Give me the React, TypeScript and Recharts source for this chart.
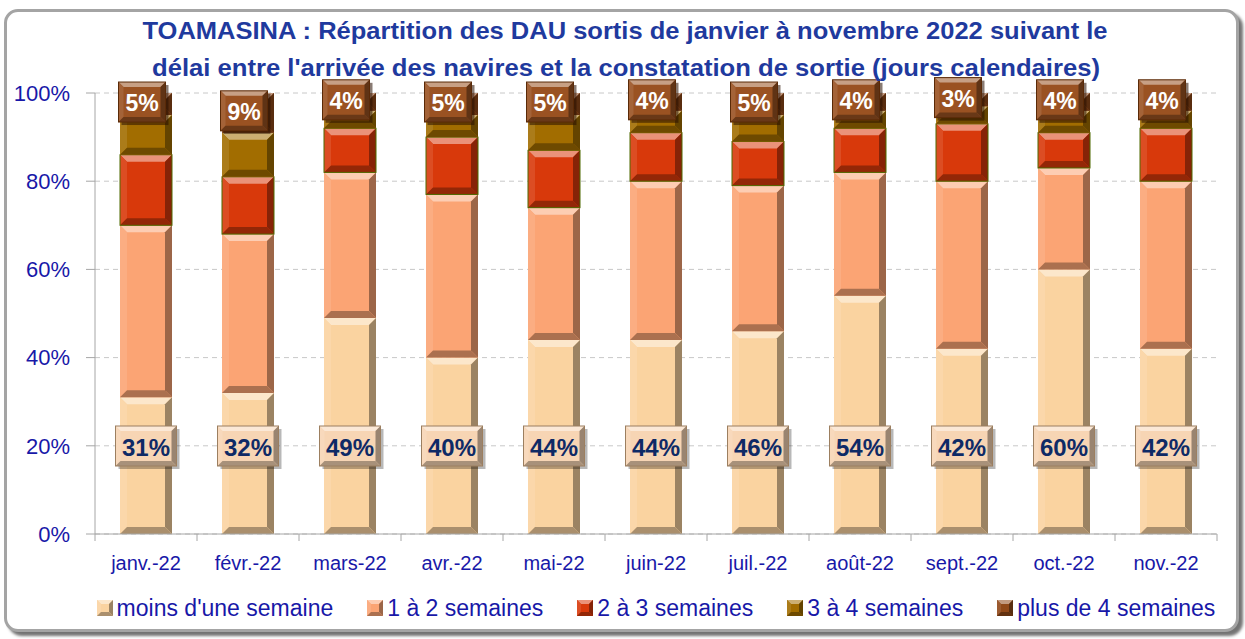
import React from 'react';
import { BarChart, Bar, XAxis, YAxis, CartesianGrid, LabelList } from 'recharts';

const categories = ['janv.-22', 'févr.-22', 'mars-22', 'avr.-22', 'mai-22', 'juin-22', 'juil.-22', 'août-22', 'sept.-22', 'oct.-22', 'nov.-22'];
const moinsUneSemaine = [31, 32, 49, 40, 44, 44, 46, 54, 42, 60, 42];
const unADeuxSemaines = [39, 36, 33, 37, 30, 36, 33, 28, 38, 23, 38];
const deuxATroisSemaines = [16, 13, 10, 13, 13, 11, 10, 10, 13, 8, 12];
const troisAQuatreSemaines = [9, 10, 4, 5, 8, 5, 6, 4, 4, 5, 4];
const plusDeQuatreSemaines = [5, 9, 4, 5, 5, 4, 5, 4, 3, 4, 4];
const seriesNames = ["moins d'une semaine", '1 à 2 semaines', '2 à 3 semaines', '3 à 4 semaines', 'plus de 4 semaines'];
const yTicks = [0, 20, 40, 60, 80, 100];
const titleLines = [
  'TOAMASINA : Répartition des DAU sortis de janvier à novembre 2022 suivant le',
  "délai entre l'arrivée des navires et la constatation de sortie (jours calendaires)",
];

const COLORS = ['#FAD3A0', '#FBA474', '#D8390B', '#A26D00', '#904818'];
const KEYS = ['s0', 's1', 's2', 's3', 's4'];
const FONT = '"Liberation Sans", Arial, sans-serif';
const AXIS_BLUE = '#1818A8';

const W = 1245;
const H = 639;
const M = { top: 93, right: 28, bottom: 65, left: 35 };
const Y_AXIS_W = 60;
const X_AXIS_H = 40;
const PLOT_W = W - M.left - Y_AXIS_W - M.right;

const data = categories.map((c, i) => ({
  name: c,
  s0: moinsUneSemaine[i],
  s1: unADeuxSemaines[i],
  s2: deuxATroisSemaines[i],
  s3: troisAQuatreSemaines[i],
  s4: plusDeQuatreSemaines[i],
}));

function mix(hex: string, target: number, t: number): string {
  const n = parseInt(hex.slice(1), 16);
  const r = (n >> 16) & 255, g = (n >> 8) & 255, b = n & 255;
  const f = (v: number) => Math.round(v + (target - v) * t);
  return `rgb(${f(r)},${f(g)},${f(b)})`;
}

function bevelPolys(x: number, y: number, w: number, h: number, b: number, fill: string, stroke?: string) {
  const light = mix(fill, 255, 0.45);
  const leftC = mix(fill, 255, 0.1);
  const right = mix(fill, 0, 0.38);
  const bottom = mix(fill, 0, 0.32);
  return (
    <g>
      <rect x={x} y={y} width={w} height={h} fill={fill} />
      <polygon points={`${x},${y} ${x + w},${y} ${x + w - b},${y + b} ${x + b},${y + b}`} fill={light} />
      <polygon points={`${x},${y} ${x + b},${y + b} ${x + b},${y + h - b} ${x},${y + h}`} fill={leftC} />
      <polygon points={`${x + w},${y} ${x + w},${y + h} ${x + w - b},${y + h - b} ${x + w - b},${y + b}`} fill={right} />
      <polygon points={`${x},${y + h} ${x + b},${y + h - b} ${x + w - b},${y + h - b} ${x + w},${y + h}`} fill={bottom} />
      {stroke ? <rect x={x} y={y} width={w} height={h} fill="none" stroke={stroke} strokeWidth={1} /> : null}
    </g>
  );
}

const makeShape = (fill: string, stroke?: string) => (props: any) => {
  const { x, y, width, height } = props;
  if (!height || height <= 0) return <g />;
  const b = Math.min(7, height / 2, width / 2);
  return bevelPolys(x, y, width, height, b, fill, stroke);
};

const MoinsLabel = (props: any) => {
  const { x, y, width, height, value } = props;
  if (value == null) return null;
  const cx = x + width / 2;
  const cy = y + height - 88;
  const bw = 61, bh = 40;
  const bx = cx - bw / 2, by = cy - bh / 2;
  return (
    <g>
      <rect x={bx + 3} y={by + 3} width={bw} height={bh} fill="rgba(0,0,0,0.28)" />
      {bevelPolys(bx, by, bw, bh, 5, '#F7D5B4', '#9C7F60')}
      <text x={cx} y={cy + 1} textAnchor="middle" dominantBaseline="central" fontFamily={FONT} fontWeight="bold" fontSize={24} fill="#0E2A66">
        {`${value}%`}
      </text>
    </g>
  );
};

const PlusLabel = (props: any) => {
  const { x, y, width, height, value } = props;
  if (value == null) return null;
  const cx = x + width / 2 - 4;
  const cy = y + height / 2 - 2;
  const bw = 47, bh = 40;
  const bx = cx - bw / 2, by = cy - bh / 2;
  return (
    <g>
      <rect x={bx + 3} y={by + 3} width={bw} height={bh} fill="rgba(40,15,0,0.55)" />
      {bevelPolys(bx, by, bw, bh, 5, '#9A5222', '#5A2A08')}
      <text x={cx} y={cy + 1} textAnchor="middle" dominantBaseline="central" fontFamily={FONT} fontWeight="bold" fontSize={23} fill="#FFFFFF">
        {`${value}%`}
      </text>
    </g>
  );
};

const XTick = (props: any) => {
  const { x, y, payload } = props;
  const idx = payload && payload.index != null ? payload.index : props.index;
  const band = PLOT_W / categories.length;
  return (
    <g>
      <line x1={x - band / 2} y1={y} x2={x - band / 2} y2={y + 7} stroke="#A6A6A6" />
      {idx === categories.length - 1 ? <line x1={x + band / 2} y1={y} x2={x + band / 2} y2={y + 7} stroke="#A6A6A6" /> : null}
      <text x={x} y={y + 36} textAnchor="middle" fontFamily={FONT} fontSize={20} fill={AXIS_BLUE}>
        {payload.value}
      </text>
    </g>
  );
};

const LegendMarker = ({ color }: { color: string }) => (
  <svg width={16} height={16} style={{ display: 'block' }}>
    {bevelPolys(0, 0, 16, 16, 4, color)}
  </svg>
);

export default function App() {
  return (
    <div style={{ position: 'absolute', left: 0, top: 0, width: W, height: H, background: '#fff', fontFamily: FONT }}>
      <div
        style={{
          position: 'absolute',
          left: 4,
          top: 9,
          width: 1229,
          height: 617,
          border: '3px solid #a4a4a4',
          borderRadius: 14,
          boxShadow: '4px 4px 3px rgba(0,0,0,0.55)',
          background: '#fff',
        }}
      />
      <div style={{ position: 'absolute', left: 0, top: 0 }}>
        <BarChart width={W} height={H} data={data} margin={M} barSize={52}>
          <CartesianGrid vertical={false} stroke="#C8C8C8" strokeDasharray="5 4" />
          <XAxis
            dataKey="name"
            height={X_AXIS_H}
            tickLine={false}
            tickSize={0}
            tickMargin={0}
            axisLine={{ stroke: '#A6A6A6' }}
            tick={<XTick />}
            interval={0}
          />
          <YAxis
            domain={[0, 100]}
            ticks={yTicks}
            tickFormatter={(v: number) => `${v}%`}
            width={Y_AXIS_W}
            tickSize={9}
            tickMargin={16}
            axisLine={{ stroke: '#A6A6A6' }}
            tickLine={{ stroke: '#A6A6A6' }}
            tick={{ fill: AXIS_BLUE, fontSize: 22, fontFamily: FONT }}
          />
          <YAxis yAxisId="r" orientation="right" domain={[0, 100]} width={0} tick={false} tickLine={false} axisLine={{ stroke: '#D9D9D9' }} />
          {KEYS.map((k, i) => (
            <Bar
              key={k}
              dataKey={k}
              name={seriesNames[i]}
              stackId="a"
              fill={COLORS[i]}
              isAnimationActive={false}
              shape={makeShape(COLORS[i], i === 2 ? '#4E6A00' : undefined)}
            >
              {i === 0 ? <LabelList dataKey={k} content={<MoinsLabel />} /> : null}
              {i === 4 ? <LabelList dataKey={k} content={<PlusLabel />} /> : null}
            </Bar>
          ))}
        </BarChart>
      </div>
      <svg style={{ position: 'absolute', left: 0, top: 0 }} width={W} height={90}>
        <text x={625} y={39} textAnchor="middle" fontFamily={FONT} fontWeight="bold" fontSize={24} fill="#1F3A9E" textLength={965} lengthAdjust="spacingAndGlyphs">
          {titleLines[0]}
        </text>
        <text x={626} y={76} textAnchor="middle" fontFamily={FONT} fontWeight="bold" fontSize={24} fill="#1F3A9E" textLength={948} lengthAdjust="spacingAndGlyphs">
          {titleLines[1]}
        </text>
      </svg>
      <div
        style={{
          position: 'absolute',
          left: 95,
          top: 594,
          width: PLOT_W,
          display: 'flex',
          justifyContent: 'center',
          alignItems: 'center',
          gap: 34,
        }}
      >
        {seriesNames.map((n, i) => (
          <div key={n} style={{ display: 'flex', alignItems: 'center', gap: 4 }}>
            <LegendMarker color={COLORS[i]} />
            <span style={{ fontSize: 23, color: AXIS_BLUE, fontFamily: FONT, whiteSpace: 'nowrap', lineHeight: '28px' }}>{n}</span>
          </div>
        ))}
      </div>
    </div>
  );
}
